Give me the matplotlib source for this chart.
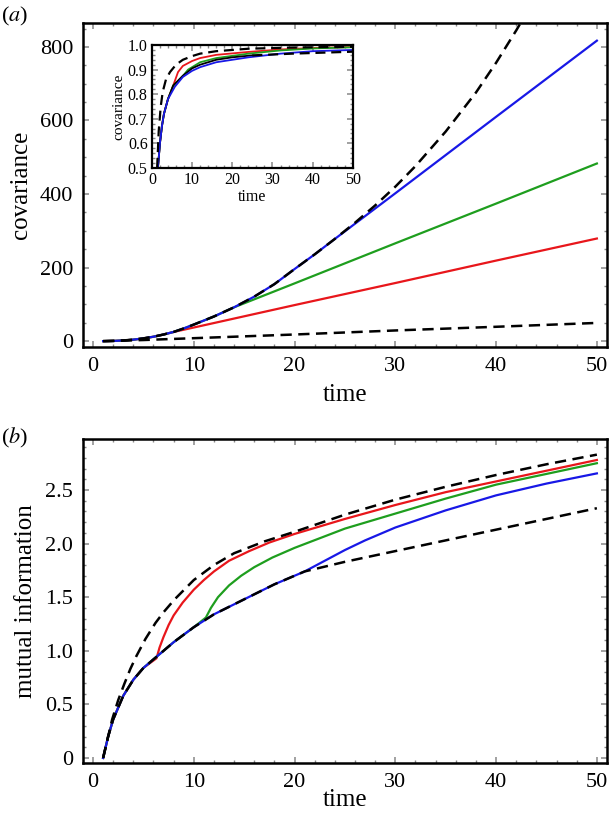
import matplotlib
matplotlib.use("Agg")
import matplotlib.pyplot as plt
from matplotlib.ticker import MultipleLocator, FixedLocator

plt.rcParams['font.family'] = ['Liberation Serif', 'DejaVu Serif']
plt.rcParams['mathtext.fontset'] = 'stix'

RED = '#e8161b'
GREEN = '#1e9e1e'
BLUE = '#1818e6'

#------ (a) covariance ------#
t_base_a = [1, 2, 3, 4, 5, 6, 7, 8, 9, 10, 12, 14, 16, 18, 20, 22, 24, 26, 28, 30, 32, 35, 38, 40, 42, 43]
cov_base = [0, 0.5, 1.8, 4, 7.5, 12, 18, 25, 34.5, 45, 67, 92, 121, 155, 196, 236, 278, 322, 369, 420, 476, 570, 676, 757, 845, 892]

t_red_a = [1, 2, 3, 4, 5, 6, 7, 8, 10, 20, 30, 40, 50]
cov_red = [0, 0.5, 1.8, 4, 7.5, 12, 18, 25, 37, 98, 158, 219, 279]

t_green_a = [1, 2, 3, 4, 5, 6, 7, 8, 9, 10, 12, 14, 20, 30, 40, 50]
cov_green = [0, 0.5, 1.8, 4, 7.5, 12, 18, 25, 34.5, 45, 67, 92, 157, 266, 374, 483]

t_blue_a = [1, 2, 3, 4, 5, 6, 7, 8, 9, 10, 12, 14, 16, 18, 20, 22, 24, 30, 40, 50]
cov_blue = [0, 0.5, 1.8, 4, 7.5, 12, 18, 25, 34.5, 45, 67, 92, 121, 155, 196, 236, 278, 402, 610, 817]

t_low_a = [1, 5, 10, 20, 30, 40, 50]
cov_low = [0, 3, 8, 18, 29, 39, 49.5]

#------ inset: normalised covariance ------#
t_up_in = [1.3, 1.7, 2.2, 2.7, 3.5, 4.5, 6, 7.7, 10, 12, 16, 24, 35, 50]
in_up = [0.5, 0.65, 0.75, 0.81, 0.86, 0.89, 0.92, 0.94, 0.955, 0.965, 0.975, 0.985, 0.99, 0.993]

t_blue_in = [1.5, 2, 2.5, 3, 4, 5.7, 7.7, 10, 12, 16, 24, 32, 40, 50]
in_blue = [0.5, 0.6, 0.67, 0.72, 0.78, 0.83, 0.87, 0.895, 0.91, 0.93, 0.95, 0.965, 0.975, 0.98]

t_black_in = [1.5, 2, 2.5, 3, 4, 5.3, 7.7, 10, 12, 16, 20, 25, 35, 50]
in_black = [0.5, 0.6, 0.67, 0.72, 0.78, 0.835, 0.875, 0.905, 0.92, 0.94, 0.95, 0.958, 0.965, 0.973]

t_red_in = [1.5, 2, 2.5, 3, 4, 5.3, 6.5, 7.7, 10, 12, 16, 24, 32, 40, 50]
in_red = [0.5, 0.6, 0.67, 0.72, 0.78, 0.835, 0.89, 0.915, 0.935, 0.947, 0.96, 0.972, 0.982, 0.988, 0.992]

t_green_in = [1.5, 2, 2.5, 3, 4, 5.3, 7.5, 9, 12, 16, 24, 32, 40, 50]
in_green = [0.5, 0.6, 0.67, 0.72, 0.78, 0.835, 0.87, 0.9, 0.93, 0.947, 0.965, 0.978, 0.986, 0.991]

#------ (b) mutual information ------#
t_up_b = [1, 1.5, 1.9, 2.5, 3.1, 3.7, 4.3, 5.2, 6.2, 7, 8.1, 10, 12, 14, 17, 20, 25, 30, 35, 40, 45, 50]
mi_up = [0, 0.2, 0.36, 0.54, 0.69, 0.83, 0.95, 1.11, 1.26, 1.36, 1.48, 1.66, 1.80, 1.91, 2.02, 2.11, 2.27, 2.41, 2.53, 2.64, 2.74, 2.83]

t_base_b = [1, 1.5, 2, 3, 4, 5, 6, 7, 8, 10, 12, 15, 18, 21, 25, 30, 35, 40, 45, 50]
mi_base = [0, 0.2, 0.36, 0.58, 0.73, 0.84, 0.92, 1.0, 1.08, 1.22, 1.34, 1.48, 1.62, 1.74, 1.83, 1.93, 2.03, 2.13, 2.23, 2.33]

t_red_b = [1, 1.5, 2, 3, 4, 5, 6.3, 6.6, 7, 7.5, 8, 8.9, 10, 11, 12, 13.5, 15.5, 17.5, 20, 25, 30, 35, 40, 45, 50]
mi_red = [0, 0.2, 0.36, 0.58, 0.73, 0.84, 0.93, 1.03, 1.13, 1.24, 1.33, 1.45, 1.57, 1.66, 1.74, 1.84, 1.93, 2.01, 2.09, 2.23, 2.36, 2.48, 2.58, 2.68, 2.78]

t_green_b = [1, 1.5, 2, 3, 4, 5, 6, 7, 8, 10, 11.2, 11.7, 12.4, 13.5, 14.7, 16, 17.8, 20, 25, 30, 35, 40, 45, 50]
mi_green = [0, 0.2, 0.36, 0.58, 0.73, 0.84, 0.92, 1.0, 1.08, 1.22, 1.31, 1.40, 1.50, 1.61, 1.70, 1.78, 1.87, 1.96, 2.14, 2.28, 2.42, 2.55, 2.65, 2.75]

t_blue_b = [1, 1.5, 2, 3, 4, 5, 6, 7, 8, 10, 12, 15, 18, 21, 22, 23.6, 25, 27, 30, 35, 40, 45, 50]
mi_blue = [0, 0.2, 0.36, 0.58, 0.73, 0.84, 0.92, 1.0, 1.08, 1.22, 1.34, 1.48, 1.62, 1.74, 1.79, 1.87, 1.94, 2.03, 2.15, 2.31, 2.45, 2.56, 2.655]


def style_frame(ax, size, pad, lw=1.8):
    for s in ax.spines.values():
        s.set_linewidth(lw)
    ax.tick_params(which='both', direction='in', top=True, right=True,
                   color='#888888', labelsize=size, pad=pad)
    ax.tick_params(which='major', length=4, width=1.1)
    ax.tick_params(which='minor', length=2, width=1.0)


def dashed(ax, x, y, lw=1.8):
    line, = ax.plot(x, y, color='black', lw=lw, zorder=5)
    line.set_dashes((4.5, 2.6))
    return line


fig = plt.figure(figsize=(6.1, 8.19), dpi=100)

#----- PANEL A -----#
ax1 = fig.add_axes([0.136, 0.5763, 0.859, 0.3956])
ax1.plot(t_red_a, cov_red, color=RED, lw=1.6)
ax1.plot(t_green_a, cov_green, color=GREEN, lw=1.6)
ax1.plot(t_blue_a, cov_blue, color=BLUE, lw=1.6)
dashed(ax1, t_base_a, cov_base)
dashed(ax1, t_low_a, cov_low)
ax1.set_xlim(-1, 51)
ax1.set_ylim(-16, 865)
ax1.xaxis.set_major_locator(MultipleLocator(10))
ax1.xaxis.set_minor_locator(MultipleLocator(2))
ax1.yaxis.set_major_locator(MultipleLocator(200))
ax1.yaxis.set_minor_locator(MultipleLocator(50))
style_frame(ax1, 16, 7)
ax1.set_xlabel('time', fontsize=18, labelpad=6)
ax1.set_ylabel('covariance', fontsize=18, labelpad=6)
fig.text(0.001, 0.980, '(' + r'$a$' + ')', fontsize=16, ha='left', va='center')

#----- INSET -----#
axi = fig.add_axes([0.249, 0.795, 0.3295, 0.150])
axi.plot(t_red_in, in_red, color=RED, lw=1.3)
axi.plot(t_green_in, in_green, color=GREEN, lw=1.3)
axi.plot(t_black_in[:12], in_black[:12], color='black', lw=1.3)
axi.plot(t_blue_in, in_blue, color=BLUE, lw=1.3)
dashed(axi, t_up_in, in_up, lw=1.6)
dashed(axi, t_black_in[11:], in_black[11:], lw=1.6)
axi.set_xlim(0, 50)
axi.set_ylim(0.5, 1.0)
axi.xaxis.set_major_locator(MultipleLocator(10))
axi.xaxis.set_minor_locator(MultipleLocator(2))
axi.yaxis.set_major_locator(FixedLocator([0.5, 0.6, 0.7, 0.8, 0.9, 1.0]))
axi.set_yticklabels(['0.5', '0.6', '0.7', '0.8', '0.9', '1.0'])
axi.yaxis.set_minor_locator(MultipleLocator(0.02))
style_frame(axi, 11.5, 3, lw=1.6)
axi.set_xlabel('time', fontsize=11.5, labelpad=1)
axi.set_ylabel('covariance', fontsize=11, labelpad=2)

#----- PANEL B -----#
ax2 = fig.add_axes([0.136, 0.0684, 0.859, 0.3956])
ax2.plot(t_red_b, mi_red, color=RED, lw=1.6)
ax2.plot(t_green_b, mi_green, color=GREEN, lw=1.6)
ax2.plot(t_blue_b, mi_blue, color=BLUE, lw=1.6)
dashed(ax2, t_up_b, mi_up)
dashed(ax2, t_base_b, mi_base)
ax2.set_xlim(-1, 51)
ax2.set_ylim(-0.047, 2.976)
ax2.xaxis.set_major_locator(MultipleLocator(10))
ax2.xaxis.set_minor_locator(MultipleLocator(2))
ax2.yaxis.set_major_locator(FixedLocator([0, 0.5, 1.0, 1.5, 2.0, 2.5]))
ax2.set_yticklabels(['0', '0.5', '1.0', '1.5', '2.0', '2.5'])
ax2.yaxis.set_minor_locator(MultipleLocator(0.1))
style_frame(ax2, 16, 7)
ax2.set_xlabel('time', fontsize=18, labelpad=-2)
ax2.set_ylabel('mutual information', fontsize=18, labelpad=6)
fig.text(0.001, 0.465, '(' + r'$b$' + ')', fontsize=16, ha='left', va='center')

plt.savefig('out.png', dpi=100)
